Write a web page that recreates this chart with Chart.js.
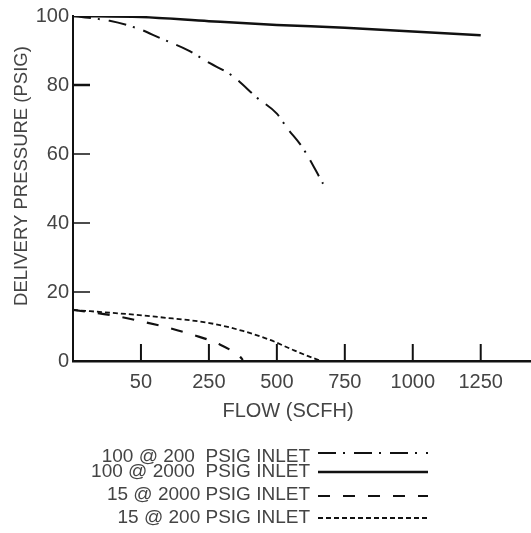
<!DOCTYPE html>
<html>
<head>
<meta charset="utf-8">
<script src="https://cdn.jsdelivr.net/npm/chart.js@4/dist/chart.umd.min.js"></script>
<style>
  body { margin: 0; background: #fff; }
  canvas { display: block; }
</style>
</head>
<body>
<canvas id="flowChart" width="531" height="533"></canvas>
<script>
// flow axis is not linear: each tick is one equal step
const tickFlows = [0, 50, 250, 500, 750, 1000, 1250];
const tickLabels = ["50", "250", "500", "750", "1000", "1250"];
const yTicks = [0, 20, 40, 60, 80, 100];

const seriesNames = ["100 @ 200  PSIG INLET", "100 @ 2000  PSIG INLET", "15 @ 2000 PSIG INLET", "15 @ 200 PSIG INLET"];

// 100 @ 200 psig inlet
const flowA = [0, 27, 49, 106, 186, 252, 337, 427, 500, 537, 595, 670];
const pressA = [100, 98.6, 96.2, 93.6, 90.2, 86.4, 82.6, 76.3, 71.7, 67.6, 61.8, 51.4];
// 100 @ 2000 psig inlet
const flowB = [0, 50, 250, 500, 750, 1000, 1250];
const pressB = [100, 99.7, 98.5, 97.4, 96.6, 95.5, 94.4];
// 15 @ 2000 psig inlet
const flowC = [0, 28, 49, 124, 206, 287, 365, 375];
const pressC = [14.8, 13.3, 11.6, 9.8, 7.5, 4.9, 1.2, 0.3];
// 15 @ 200 psig inlet
const flowD = [0, 40, 106, 252, 375, 475, 560, 632, 665];
const pressD = [14.8, 13.6, 12.7, 11.0, 8.7, 6.1, 3.2, 0.9, 0];

function flowToPos(f) {
  for (let i = 1; i < tickFlows.length; i++) {
    if (f <= tickFlows[i]) {
      return i - 1 + (f - tickFlows[i - 1]) / (tickFlows[i] - tickFlows[i - 1]);
    }
  }
  return tickFlows.length - 1;
}

function pts(flows, press) {
  return flows.map(function(f, i) { return { x: flowToPos(f), y: press[i] }; });
}

const ink = "#111";
const textCol = "#444";
const font = "'Liberation Sans', Arial, sans-serif";

const dataObj = {
  datasets: [
    { label: seriesNames[0], data: pts(flowA, pressA), borderDash: [18, 7, 2, 9], borderWidth: 2 },
    { label: seriesNames[1], data: pts(flowB, pressB), borderDash: [], borderWidth: 2.5 },
    { label: seriesNames[2], data: pts(flowC, pressC), borderDash: [12, 13], borderWidth: 2.2 },
    { label: seriesNames[3], data: pts(flowD, pressD), borderDash: [5, 3], borderWidth: 1.8 }
  ].map(function(d) {
    d.borderColor = ink;
    d.pointRadius = 0;
    d.fill = false;
    d.cubicInterpolationMode = "monotone";
    return d;
  })
};

// inward ticks, axis titles and the legend under the chart
const extras = {
  id: "extras",
  afterDraw: function(chart) {
    const ctx = chart.ctx;
    const xs = chart.scales.x, ys = chart.scales.y;
    const area = chart.chartArea;
    ctx.save();
    ctx.strokeStyle = ink;
    ctx.setLineDash([]);
    yTicks.slice(1, 5).forEach(function(v) {
      const py = ys.getPixelForValue(v);
      ctx.lineWidth = v === 80 ? 2.5 : 1.5;
      ctx.beginPath();
      ctx.moveTo(area.left, py);
      ctx.lineTo(area.left + 17, py);
      ctx.stroke();
    });
    ctx.lineWidth = 2;
    for (let i = 1; i <= tickLabels.length; i++) {
      const px = xs.getPixelForValue(i);
      ctx.beginPath();
      ctx.moveTo(px, area.bottom);
      ctx.lineTo(px, area.bottom - 17);
      ctx.stroke();
    }

    ctx.fillStyle = textCol;
    ctx.textAlign = "center";
    ctx.textBaseline = "middle";
    ctx.font = "20px " + font;
    ctx.fillText("FLOW (SCFH)", 288, 411);
    ctx.font = "18.5px " + font;
    ctx.save();
    ctx.translate(22, 176);
    ctx.rotate(-Math.PI / 2);
    ctx.fillText("DELIVERY PRESSURE (PSIG)", 0, 0);
    ctx.restore();

    const rowText = [457, 472, 495, 518];
    const rowLine = [453, 472, 496, 518];
    ctx.font = "19px " + font;
    ctx.textAlign = "right";
    chart.data.datasets.forEach(function(d, i) {
      ctx.fillStyle = textCol;
      ctx.fillText(d.label, 310, rowText[i]);
      ctx.strokeStyle = ink;
      ctx.lineWidth = d.borderWidth;
      ctx.setLineDash(d.borderDash);
      ctx.beginPath();
      ctx.moveTo(318, rowLine[i]);
      ctx.lineTo(428, rowLine[i]);
      ctx.stroke();
    });
    ctx.restore();
  }
};

new Chart("flowChart", {
  type: "line",
  data: dataObj,
  plugins: [extras],
  options: {
    responsive: false,
    animation: false,
    layout: { padding: { top: 15, right: 0, left: 0, bottom: 132 } },
    plugins: { legend: { display: false }, tooltip: { enabled: false } },
    scales: {
      x: {
        type: "linear",
        min: 0,
        max: 6.74,
        grid: { display: false, drawTicks: false },
        border: { color: ink, width: 2.5 },
        afterBuildTicks: function(scale) {
          scale.ticks = tickLabels.map(function(l, i) { return { value: i + 1 }; });
        },
        afterFit: function(scale) { scale.height = 40; },
        ticks: {
          color: textCol,
          font: { family: font, size: 20 },
          padding: 9,
          maxRotation: 0,
          autoSkip: false,
          callback: function(v) { return tickLabels[v - 1]; }
        }
      },
      y: {
        min: 0,
        max: 100,
        grid: { display: false, drawTicks: false },
        border: { color: ink, width: 2 },
        afterFit: function(scale) { scale.width = 73; },
        ticks: {
          stepSize: 20,
          color: textCol,
          font: { family: font, size: 20 },
          padding: 4
        }
      }
    }
  }
});
</script>
</body>
</html>
